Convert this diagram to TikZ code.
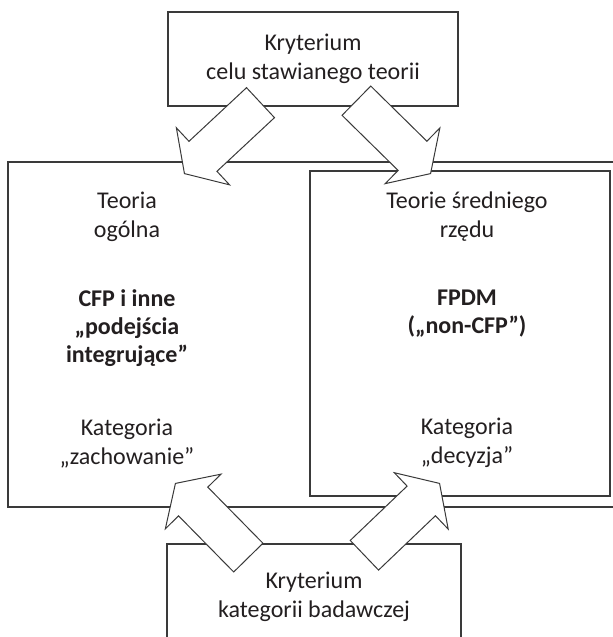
\documentclass[tikz,border=0pt]{standalone}
\usepackage{fontspec}
\setmainfont{Carlito}
\usetikzlibrary{shapes.arrows}
\definecolor{Rule}{HTML}{3A3A3A}
\definecolor{Ink}{HTML}{231F20}
\tikzset{
  frame/.style={draw=Rule, line width=0.7pt, fill=white},
  txtblock/.style={align=center, text=Ink, inner sep=0pt,
    font=\fontsize{12}{14.5}\selectfont},
  boldblock/.style={txtblock, font=\fontsize{12}{14}\selectfont\bfseries},
  blockarrow/.style={single arrow, draw=Rule, line width=0.5pt, fill=white,
    inner sep=10pt, minimum height=52pt, single arrow head extend=9.25pt,
    single arrow tip angle=114, anchor=tip}
}
\begin{document}
\begin{tikzpicture}[x=0.5pt, y=-0.5pt]
  \useasboundingbox (0,0) rectangle (613,637);
  % large frames
  \draw[frame] (8,162) rectangle (640,507);
  \draw[frame] (310,171) rectangle (610,496);
  % criteria
  \node[frame, txtblock, minimum width=145pt, minimum height=47pt] (celu)
    at (313,59) {Kryterium\\celu stawianego teorii};
  \node[frame, txtblock, minimum width=147pt, minimum height=53pt] (badawcza)
    at (314,597) {Kryterium\\kategorii badawczej};
  % general theory
  \node[txtblock]  (ogolna)   at (127,217) {Teoria\\ogólna};
  \node[boldblock] (cfp)      at (127,328) {CFP i inne\\„podejścia\\integrujące”};
  \node[txtblock]  (zachow)   at (127,444) {Kategoria\\„zachowanie”};
  % middle-range theories
  \node[txtblock]  (srednie)  at (467,217) {Teorie średniego\\rzędu};
  \node[boldblock] (fpdm)     at (467,314) {FPDM\\(„non-CFP”)};
  \node[txtblock]  (decyzja)  at (467,443) {Kategoria\\„decyzja”};
  % block arrows
  \node[blockarrow, rotate=223]   (celuL) at (184,174) {};
  \node[blockarrow, rotate=-44.5] (celuR) at (431,174) {};
  \node[blockarrow, rotate=134.5] (badL)  at (175,483) {};
  \node[blockarrow, rotate=43.7]  (badR)  at (440,483) {};
\end{tikzpicture}
\end{document}
